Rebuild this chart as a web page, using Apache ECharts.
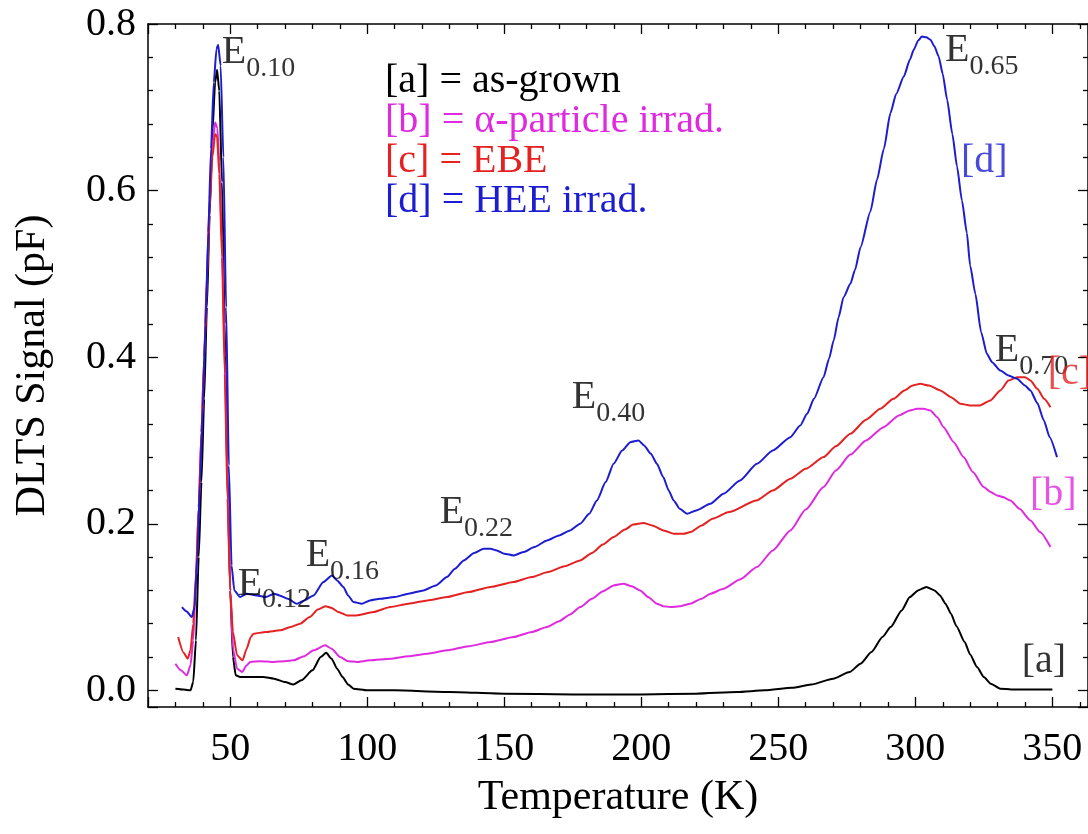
<!DOCTYPE html>
<html>
<head>
<meta charset="utf-8">
<script src="https://cdn.jsdelivr.net/npm/echarts@6/dist/echarts.min.js"></script>
<style>
html,body{margin:0;padding:0;background:#fff}
#chart{width:1088px;height:834px}
</style>
</head>
<body>
<div id="chart"></div>
<script>
// [a] as-grown
var tempA = [30,33,35.5,36.5,37.5,38.5,39.5,40.5,41.5,42.5,43.5,44.5,45.2,46,47,48,49,50,51,52,53.6,58,62,66,70,73,76,80,83,85,87,89,91,93,95,100,110,130,150,175,200,220,235,245,255,262,270,276,280,284,288,291,295,298,301,304,307,309,311,313,315,318,320,322.5,325,327.5,331,335,350];
var signalA = [0.002,0.001,0.000,0.010,0.060,0.160,0.250,0.350,0.460,0.570,0.670,0.730,0.745,0.720,0.610,0.440,0.260,0.120,0.040,0.018,0.016,0.016,0.016,0.014,0.010,0.007,0.012,0.024,0.040,0.045,0.038,0.026,0.016,0.007,0.002,0.000,0.000,-0.002,-0.004,-0.005,-0.005,-0.004,-0.002,0.000,0.003,0.007,0.014,0.022,0.032,0.046,0.064,0.076,0.096,0.112,0.120,0.124,0.120,0.114,0.104,0.092,0.077,0.058,0.043,0.028,0.016,0.008,0.002,0.001,0.001];

// [b] alpha-particle irradiated
var tempB = [30,32,34.2,35.5,36.5,37.5,38.5,39.5,40.5,41.5,42.5,43.5,44.5,45.3,46,47,48,49,50,51,52.5,54.3,56,57.3,61,65.8,70,73.1,77,80.4,84.7,87,90.1,93,96.2,101,108.4,115,122,129.1,137,145,153.4,160,165.6,170,174,177.7,182,186,189.9,193.5,196.5,199.6,202.5,205.7,208,210.6,214,217.9,222,225.2,230,236,242.2,248,254.4,260,266.5,271,276.3,282,288.4,294,298,300.6,303,305.5,308,310.3,314,317.6,321,324.9,327.5,329.8,332,334.7,338,342,345.5,349.3];
var signalB = [0.032,0.024,0.018,0.030,0.060,0.130,0.220,0.310,0.400,0.500,0.590,0.655,0.682,0.675,0.635,0.540,0.400,0.250,0.120,0.050,0.026,0.022,0.030,0.034,0.035,0.034,0.035,0.036,0.041,0.048,0.054,0.050,0.040,0.035,0.034,0.036,0.038,0.041,0.044,0.048,0.053,0.058,0.064,0.070,0.076,0.083,0.091,0.100,0.110,0.119,0.126,0.128,0.125,0.120,0.112,0.104,0.101,0.100,0.101,0.104,0.110,0.116,0.122,0.133,0.148,0.168,0.192,0.217,0.244,0.264,0.283,0.300,0.316,0.330,0.336,0.338,0.338,0.336,0.328,0.316,0.298,0.280,0.262,0.244,0.238,0.234,0.232,0.228,0.218,0.204,0.190,0.172];

// [c] EBE
var tempC = [31,33,34.5,35.5,36.5,37.5,38.5,39.5,40.5,41.5,42.5,43.5,44.5,45.2,46,47,48,49,50,51,52.5,54.5,56,57.5,58.5,63,68.2,72,75.5,79,82,84.7,87,89.5,92.6,96,102.3,108.4,115,122,129.1,137,145,153.4,160,166,172,177.7,182,186,189.9,194,197,200.8,204,208.1,212,215.4,218,222,226,232,242,248,254.4,260,266.5,271,276.3,282,287.2,292,296,299,301.8,305,309.1,313,316.5,320,323.5,327.4,331,334,337.1,340,342,344.5,347,349.3];
var signalC = [0.064,0.045,0.038,0.048,0.080,0.140,0.220,0.310,0.400,0.490,0.580,0.640,0.668,0.665,0.620,0.520,0.380,0.230,0.120,0.070,0.042,0.036,0.050,0.064,0.068,0.070,0.072,0.076,0.080,0.088,0.097,0.101,0.099,0.094,0.090,0.090,0.094,0.100,0.104,0.108,0.112,0.118,0.124,0.130,0.136,0.142,0.149,0.156,0.165,0.175,0.184,0.193,0.199,0.201,0.198,0.192,0.188,0.188,0.190,0.198,0.206,0.214,0.228,0.240,0.254,0.266,0.280,0.293,0.308,0.325,0.338,0.350,0.360,0.366,0.368,0.366,0.360,0.352,0.344,0.342,0.342,0.348,0.360,0.372,0.376,0.376,0.372,0.362,0.350,0.340];

// [d] HEE irradiated
var tempD = [32.4,34,36,37,38,39,40,41,42,43,44,45,45.6,46.5,47.5,48.5,49.5,50.5,51.5,53.6,56,59.7,63,66,68,71,74.3,77,80.4,84,87.1,89,91.3,93,95,98,101,104.7,110,115,120.5,125,129.1,132,135.2,139,142.5,145,147.3,150,153.4,157,161,165.6,170,174,177.7,181,183.8,187,189.9,193,196,199,201,203.5,205.7,208,210,211.8,214,216.7,220,225.2,230,236,242.2,248,254.4,258,260.5,263,266.5,268.5,270.2,272,273.8,276.3,278,280,283.6,286,288.5,290.9,293,295.8,298,299.4,301,302.4,304,305.5,307,308.5,310,311.6,313.5,315.2,317,318.8,320,321.9,324,326.1,328,331,334,337.1,340,342,344.5,346.9,349,351.7];
var signalD = [0.100,0.095,0.088,0.100,0.160,0.250,0.340,0.440,0.550,0.650,0.730,0.770,0.775,0.750,0.640,0.460,0.270,0.150,0.120,0.112,0.116,0.114,0.112,0.116,0.114,0.110,0.104,0.108,0.114,0.130,0.138,0.132,0.124,0.114,0.106,0.104,0.108,0.110,0.112,0.116,0.120,0.126,0.136,0.146,0.156,0.165,0.170,0.170,0.168,0.164,0.162,0.166,0.172,0.180,0.186,0.192,0.200,0.212,0.228,0.250,0.272,0.288,0.298,0.300,0.294,0.284,0.272,0.256,0.240,0.228,0.218,0.212,0.216,0.224,0.236,0.252,0.272,0.288,0.304,0.318,0.332,0.350,0.376,0.398,0.420,0.448,0.472,0.488,0.505,0.532,0.575,0.613,0.650,0.693,0.716,0.737,0.757,0.769,0.780,0.785,0.784,0.781,0.773,0.761,0.740,0.709,0.668,0.629,0.588,0.549,0.510,0.476,0.430,0.404,0.394,0.384,0.378,0.374,0.366,0.360,0.345,0.324,0.304,0.280];

var seriesNames = ['[a] = as-grown', '[b] = \u03b1-particle irrad.', '[c] = EBE', '[d] = HEE irrad.'];
var seriesColors = ['#000000', '#e02ae0', '#e42222', '#1c1cd0'];

// trap level labels: subscript, temperature, signal (top-left of text)
var peakLabels = [
  ['0.10', 47.1, 0.789],
  ['0.12', 52.9, 0.151],
  ['0.16', 77.7, 0.185],
  ['0.22', 126.6, 0.237],
  ['0.40', 174.8, 0.375],
  ['0.65', 311.0, 0.792],
  ['0.70', 329.2, 0.431]
];
// curve tags: text, temperature, signal, series index
var curveTags = [
  ['[a]', 339.0, 0.058, 0],
  ['[b]', 342.0, 0.258, 1],
  ['[c]', 348.5, 0.404, 2],
  ['[d]', 316.8, 0.658, 3]
];

var FONT = "'Liberation Serif', 'Times New Roman', serif";
var INK = '#000';

function pairs(t, v) {
  return t.map(function (x, i) { return [x, v[i]]; });
}

var curves = [pairs(tempA, signalA), pairs(tempB, signalB), pairs(tempC, signalC), pairs(tempD, signalD)];

var chart = echarts.init(document.getElementById('chart'));

var tickStyle = {color: '#000', width: 1.3};
function xAx(pos, withLabels) {
  return {
    type: 'value', position: pos, min: 20, max: 363,
    axisLine: {show: true, onZero: false, lineStyle: {color: '#000', width: 1.5}},
    axisTick: {show: true, inside: true, length: 10, lineStyle: tickStyle},
    minorTick: {show: true, splitNumber: 5, length: 5, lineStyle: tickStyle},
    axisLabel: {show: withLabels, fontSize: 40, fontFamily: FONT, color: INK, margin: 22, showMinLabel: false, showMaxLabel: false},
    splitLine: {show: false},
    name: withLabels ? 'Temperature (K)' : '',
    nameLocation: 'middle', nameGap: 70,
    nameTextStyle: {fontSize: 42, fontFamily: FONT, color: INK}
  };
}
function yAx(pos, withLabels) {
  return {
    type: 'value', position: pos, min: -0.02, max: 0.8,
    axisLine: {show: true, onZero: false, lineStyle: {color: '#000', width: 1.5}},
    axisTick: {show: true, inside: true, length: 10, lineStyle: tickStyle},
    minorTick: {show: true, splitNumber: 5, length: 5, lineStyle: tickStyle},
    axisLabel: {show: withLabels, fontSize: 40, fontFamily: FONT, color: INK, margin: 12, showMinLabel: false,
      formatter: function (v) { return v.toFixed(1); }},
    splitLine: {show: false},
    name: withLabels ? 'DLTS Signal (pF)' : '',
    nameLocation: 'middle', nameGap: 94,
    nameTextStyle: {fontSize: 42, fontFamily: FONT, color: INK}
  };
}

var series = curves.map(function (d, i) {
  return {
    name: seriesNames[i], type: 'line', data: d, showSymbol: false,
    smooth: 0.2, smoothMonotone: 'x',
    lineStyle: {color: seriesColors[i], width: 2},
    itemStyle: {color: seriesColors[i]},
    z: 2 + i
  };
});

series.push({
  type: 'scatter', symbolSize: 1, silent: true, z: 10,
  itemStyle: {color: 'rgba(0,0,0,0)'},
  data: peakLabels.map(function (p) {
    return {value: [p[1], p[2]], label: {formatter: '{e|E}{s|' + p[0] + '}'}};
  }),
  label: {
    show: true, position: [0, 0], align: 'left', verticalAlign: 'top',
    rich: {
      e: {fontSize: 40, lineHeight: 40, fontFamily: FONT, color: INK, verticalAlign: 'top'},
      s: {fontSize: 28, lineHeight: 28, fontFamily: FONT, color: INK, verticalAlign: 'top', padding: [22, 0, 0, 0]}
    }
  }
});

series.push({
  type: 'scatter', symbolSize: 1, silent: true, z: 10,
  itemStyle: {color: 'rgba(0,0,0,0)'},
  data: curveTags.map(function (p) {
    return {value: [p[1], p[2]], label: {formatter: p[0], color: seriesColors[p[3]]}};
  }),
  label: {show: true, position: [0, 0], align: 'left', verticalAlign: 'top', fontSize: 40, lineHeight: 40, fontFamily: FONT}
});

chart.setOption({
  animation: false,
  backgroundColor: '#fff',
  grid: {left: 148, right: 0, top: 24, bottom: 127},
  legend: {
    show: true, orient: 'vertical', left: 375, top: 56,
    itemWidth: 0, itemHeight: 0, itemGap: 0, selectedMode: false,
    textStyle: {fontSize: 40, lineHeight: 38, fontFamily: FONT},
    data: seriesNames.map(function (n, i) {
      return {name: n, icon: 'rect', textStyle: {color: seriesColors[i]}};
    })
  },
  xAxis: [xAx('bottom', true), xAx('top', false)],
  yAxis: [yAx('left', true), yAx('right', false)],
  series: series
});
</script>
</body>
</html>
